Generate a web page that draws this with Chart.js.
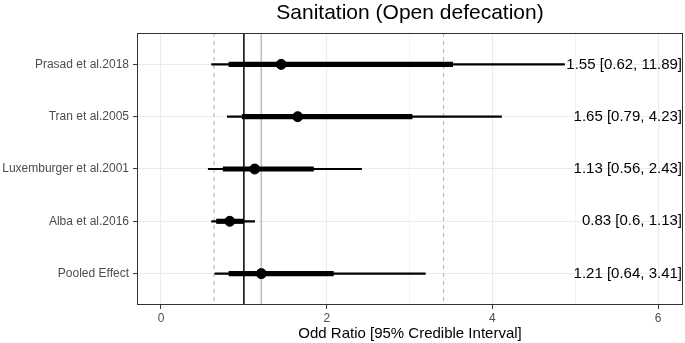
<!DOCTYPE html>
<html>
<head>
<meta charset="utf-8">
<script src="https://cdn.jsdelivr.net/npm/chart.js@4/dist/chart.umd.min.js"></script>
<style>
  html, body { margin: 0; padding: 0; background: #fff; }
  #wrap { width: 685px; height: 343px; }
</style>
</head>
<body>
<div id="wrap"><canvas id="forest"></canvas></div>
<script>
// study rows, top to bottom
const studies = ['Prasad et al.2018', 'Tran et al.2005', 'Luxemburger et al.2001', 'Alba et al.2016', 'Pooled Effect'];
const rowPos = [1, 2, 3, 4, 5];

// point estimates and intervals
const pointEst = [1.45, 1.65, 1.13, 0.83, 1.21];
const thinLow = [0.61, 0.80, 0.57, 0.61, 0.65];
const thinHigh = [4.87, 4.11, 2.42, 1.13, 3.19];
const thickLow = [0.82, 0.98, 0.75, 0.67, 0.82];
const thickHigh = [3.52, 3.03, 1.84, 0.99, 2.08];

// text printed at the right of each row
const estimateText = ['1.55 [0.62, 11.89]', '1.65 [0.79, 4.23]', '1.13 [0.56, 2.43]', '0.83 [0.6, 1.13]', '1.21 [0.64, 3.41]'];

// reference lines
const dashedRefs = [0.64, 3.41];
const nullLine = [1];
const pooledLine = [1.21];

const xTicks = [0, 1, 2, 3, 4, 5, 6];

const FONT = '"Liberation Sans", Arial, Helvetica, sans-serif';
Chart.defaults.font.family = FONT;

const forestExtras = {
    id: 'forestExtras',
    beforeDatasetsDraw(chart) {
        const { ctx, chartArea, scales } = chart;
        ctx.save();
        ctx.beginPath();
        ctx.rect(chartArea.left, chartArea.top, chartArea.width, chartArea.height);
        ctx.clip();
        const vline = (v, color, width, dash) => {
            const x = scales.x.getPixelForValue(v);
            ctx.strokeStyle = color;
            ctx.lineWidth = width;
            ctx.setLineDash(dash);
            ctx.beginPath();
            ctx.moveTo(x, chartArea.top);
            ctx.lineTo(x, chartArea.bottom);
            ctx.stroke();
        };
        dashedRefs.forEach(v => vline(v, '#bdbdbd', 1.2, [4, 4]));
        pooledLine.forEach(v => vline(v, '#bdbdbd', 1.5, []));
        nullLine.forEach(v => vline(v, '#000', 1.5, []));
        ctx.restore();
    },
    afterDatasetsDraw(chart) {
        const { ctx, chartArea, scales } = chart;
        ctx.save();
        // estimate labels
        ctx.font = '15px ' + FONT;
        ctx.fillStyle = '#000';
        ctx.textAlign = 'right';
        ctx.textBaseline = 'middle';
        estimateText.forEach((t, i) => {
            ctx.fillText(t, chartArea.right - 1, scales.y.getPixelForValue(rowPos[i]));
        });
        // panel border
        ctx.strokeStyle = '#333';
        ctx.lineWidth = 1;
        ctx.strokeRect(chartArea.left + 0.5, chartArea.top + 0.5, chartArea.width - 1, chartArea.height - 1);
        // title centred over the panel
        ctx.font = '21px ' + FONT;
        ctx.textAlign = 'center';
        ctx.fillText('Sanitation (Open defecation)', (chartArea.left + chartArea.right) / 2, 13);
        ctx.restore();
    }
};

const ctx = document.getElementById('forest').getContext('2d');
new Chart(ctx, {
    type: 'bar',
    data: {
        datasets: [
            {
                indexAxis: 'y',
                data: rowPos.map((p, i) => ({ y: p, x: [thinLow[i], thinHigh[i]] })),
                backgroundColor: '#000',
                barThickness: 1.5,
                grouped: false,
                order: 3
            },
            {
                indexAxis: 'y',
                data: rowPos.map((p, i) => ({ y: p, x: [thickLow[i], thickHigh[i]] })),
                backgroundColor: '#000',
                barThickness: 4.5,
                grouped: false,
                order: 2
            },
            {
                type: 'scatter',
                data: rowPos.map((p, i) => ({ x: pointEst[i], y: p })),
                backgroundColor: '#000',
                borderColor: '#000',
                pointRadius: 5,
                order: 1
            }
        ]
    },
    options: {
        indexAxis: 'y',
        responsive: true,
        maintainAspectRatio: false,
        animation: false,
        layout: { autoPadding: false, padding: { top: 33, right: 2, left: 0, bottom: 0 } },
        plugins: {
            legend: { display: false },
            tooltip: { enabled: false },
            title: { display: false }
        },
        scales: {
            x: {
                type: 'linear',
                min: -0.29,
                max: 6.3,
                offset: false,
                afterBuildTicks: axis => { axis.ticks = xTicks.map(v => ({ value: v })); },
                afterFit: axis => {
                    axis.height = 38;
                    axis.paddingLeft = 0;
                    axis.paddingRight = 0;
                },
                border: { display: false },
                grid: {
                    offset: false,
                    color: '#ebebeb',
                    lineWidth: c => (c.tick && c.tick.value % 2 ? 0.6 : 1.1),
                    tickColor: c => (c.tick && c.tick.value % 2 ? 'rgba(0,0,0,0)' : '#333'),
                    tickWidth: 1,
                    tickLength: 4
                },
                ticks: {
                    autoSkip: false,
                    maxRotation: 0,
                    color: '#4d4d4d',
                    font: { size: 12 },
                    padding: 2,
                    callback: v => (v % 2 === 0 ? String(v) : '')
                },
                title: {
                    display: true,
                    text: 'Odd Ratio [95% Credible Interval]',
                    color: '#000',
                    font: { size: 15 },
                    padding: { top: 0, bottom: 0 }
                }
            },
            y: {
                type: 'linear',
                reverse: true,
                min: 0.4,
                max: 5.6,
                offset: false,
                afterBuildTicks: axis => { axis.ticks = rowPos.map(v => ({ value: v })); },
                afterFit: axis => { axis.width = 137; },
                border: { display: false },
                grid: {
                    offset: false,
                    color: '#ebebeb',
                    lineWidth: 1.1,
                    tickColor: '#333',
                    tickWidth: 1,
                    tickLength: 4
                },
                ticks: {
                    autoSkip: false,
                    color: '#4d4d4d',
                    font: { size: 12 },
                    padding: 4,
                    callback: v => studies[rowPos.indexOf(v)]
                }
            }
        }
    },
    plugins: [forestExtras]
});
</script>
</body>
</html>
